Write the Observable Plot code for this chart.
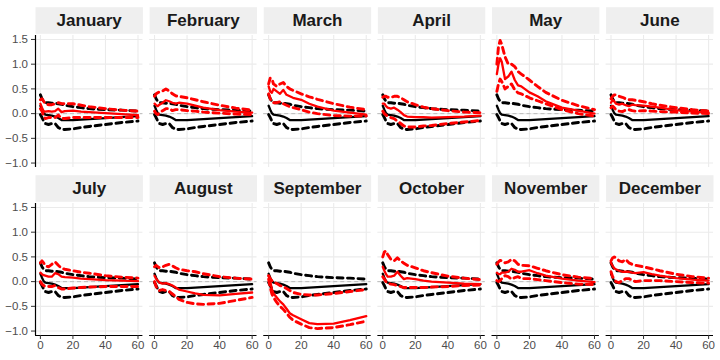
<!DOCTYPE html>
<html>
<head>
<meta charset="utf-8">
<script src="https://cdn.jsdelivr.net/npm/d3@7"></script>
<script src="https://cdn.jsdelivr.net/npm/@observablehq/plot@0.6"></script>
<style>
  html, body { margin: 0; padding: 0; background: #ffffff; }
  #chart { width: 720px; height: 360px; }
</style>
</head>
<body>
<div id="chart"></div>
<script>
// ---------------- data ----------------
const months = ["January","February","March","April","May","June",
                "July","August","September","October","November","December"];
const xSteps = [0,1,2,3,5,7,9,11,13,15,20,25,30,40,50,60];
const xTicks = [0,20,40,60];
const yTicks = [-1,-0.5,0,0.5,1,1.5];

// baseline response (black), identical in every panel
const blackMid   = [0.16,0.08,0.01,-0.02,-0.03,-0.04,-0.06,-0.09,-0.13,-0.13,-0.13,-0.12,-0.11,-0.09,-0.07,-0.05];
const blackUpper = [0.38,0.30,0.25,0.22,0.22,0.21,0.21,0.20,0.19,0.17,0.14,0.12,0.10,0.08,0.07,0.05];
const blackLower = [-0.02,-0.08,-0.15,-0.20,-0.22,-0.20,-0.20,-0.28,-0.32,-0.32,-0.31,-0.28,-0.26,-0.22,-0.18,-0.15];

// month-specific response (red), one row per month
const redMid = [
  [0.20,0.12,0.05,0.04,0.05,0.04,0.05,0.10,0.03,0.05,0.06,0.04,0.03,0.01,-0.01,-0.03],
  [0.20,0.17,0.15,0.18,0.22,0.27,0.25,0.22,0.20,0.22,0.20,0.16,0.12,0.07,0.04,0.02],
  [0.55,0.45,0.42,0.50,0.45,0.40,0.48,0.38,0.35,0.32,0.28,0.20,0.14,0.06,0.02,-0.02],
  [0.20,0.20,0.15,0.12,0.10,0.12,0.08,0.03,-0.03,-0.06,-0.07,-0.07,-0.08,-0.07,-0.06,-0.04],
  [0.80,1.00,1.12,1.05,0.70,0.75,0.85,0.68,0.57,0.55,0.43,0.35,0.25,0.12,0.06,0.00],
  [0.22,0.28,0.25,0.20,0.18,0.20,0.17,0.15,0.18,0.17,0.16,0.14,0.12,0.07,0.04,0.02],
  [0.18,0.15,0.13,0.12,0.10,0.10,0.17,0.15,0.10,0.09,0.08,0.06,0.05,0.03,0.02,0.01],
  [0.12,0.06,0.02,-0.02,-0.04,-0.03,-0.05,-0.08,-0.12,-0.16,-0.20,-0.24,-0.27,-0.28,-0.25,-0.22],
  [0.12,0.00,-0.15,-0.24,-0.32,-0.40,-0.46,-0.55,-0.64,-0.68,-0.76,-0.84,-0.86,-0.85,-0.78,-0.70],
  [0.30,0.22,0.15,0.10,0.10,0.12,0.20,0.12,0.05,0.07,0.05,0.02,0.00,-0.02,-0.04,-0.05],
  [0.18,0.15,0.15,0.18,0.18,0.20,0.26,0.24,0.20,0.20,0.23,0.17,0.12,0.06,0.02,-0.01],
  [0.38,0.32,0.27,0.25,0.22,0.20,0.20,0.20,0.18,0.17,0.19,0.15,0.12,0.07,0.04,0.02]
];
const redUpper = [
  [0.28,0.30,0.25,0.20,0.18,0.18,0.20,0.22,0.20,0.20,0.20,0.17,0.14,0.10,0.07,0.05],
  [0.35,0.40,0.42,0.44,0.46,0.50,0.46,0.40,0.36,0.35,0.32,0.28,0.24,0.17,0.11,0.07],
  [0.60,0.72,0.70,0.60,0.55,0.60,0.63,0.55,0.50,0.47,0.40,0.34,0.29,0.20,0.13,0.08],
  [0.33,0.35,0.35,0.33,0.33,0.35,0.35,0.32,0.28,0.24,0.18,0.13,0.10,0.06,0.03,0.02],
  [1.00,1.35,1.48,1.40,1.15,1.00,1.00,0.95,0.85,0.80,0.68,0.55,0.43,0.27,0.16,0.08],
  [0.30,0.35,0.38,0.38,0.35,0.33,0.30,0.28,0.28,0.27,0.24,0.20,0.17,0.12,0.08,0.05],
  [0.38,0.42,0.38,0.32,0.30,0.35,0.40,0.33,0.27,0.25,0.22,0.19,0.17,0.12,0.09,0.07],
  [0.30,0.33,0.30,0.28,0.30,0.33,0.35,0.32,0.28,0.25,0.22,0.20,0.16,0.10,0.07,0.05],
  [0.12,0.06,0.02,0.00,-0.04,-0.08,-0.10,-0.14,-0.18,-0.22,-0.26,-0.27,-0.27,-0.24,-0.20,-0.16],
  [0.50,0.60,0.62,0.55,0.45,0.42,0.48,0.42,0.37,0.33,0.28,0.22,0.18,0.11,0.07,0.04],
  [0.35,0.40,0.43,0.42,0.38,0.40,0.45,0.42,0.35,0.33,0.32,0.27,0.22,0.14,0.09,0.06],
  [0.42,0.48,0.50,0.48,0.42,0.40,0.45,0.38,0.35,0.33,0.30,0.26,0.22,0.15,0.10,0.07]
];
const redLower = [
  [0.10,0.05,-0.05,-0.10,-0.08,-0.08,-0.08,-0.03,-0.10,-0.10,-0.08,-0.08,-0.08,-0.08,-0.08,-0.08],
  [0.05,0.00,-0.02,0.02,0.06,0.10,0.10,0.06,0.08,0.08,0.06,0.05,0.03,0.01,-0.01,-0.02],
  [0.40,0.30,0.25,0.22,0.22,0.24,0.20,0.17,0.14,0.12,0.08,0.03,0.00,-0.04,-0.05,-0.05],
  [0.05,0.00,-0.03,-0.05,-0.08,-0.10,-0.15,-0.20,-0.25,-0.27,-0.27,-0.25,-0.24,-0.20,-0.17,-0.14],
  [0.45,0.60,0.70,0.65,0.50,0.55,0.60,0.48,0.42,0.40,0.32,0.26,0.20,0.08,0.00,-0.05],
  [0.12,0.15,0.12,0.08,0.05,0.04,0.07,0.08,0.06,0.05,0.06,0.05,0.04,0.03,0.01,0.00],
  [0.00,-0.05,-0.08,-0.10,-0.10,-0.10,-0.08,-0.12,-0.15,-0.15,-0.13,-0.12,-0.11,-0.10,-0.10,-0.10],
  [0.00,-0.10,-0.15,-0.18,-0.16,-0.18,-0.20,-0.25,-0.30,-0.36,-0.42,-0.45,-0.46,-0.44,-0.38,-0.32],
  [0.05,-0.12,-0.25,-0.32,-0.42,-0.50,-0.56,-0.64,-0.72,-0.78,-0.86,-0.93,-0.95,-0.93,-0.87,-0.80],
  [0.10,0.05,0.00,-0.03,-0.05,-0.06,-0.08,-0.10,-0.12,-0.12,-0.12,-0.12,-0.11,-0.10,-0.08,-0.07],
  [0.02,0.00,0.02,0.06,0.12,0.10,0.05,0.08,0.10,0.06,0.06,0.04,0.02,-0.02,-0.05,-0.06],
  [0.20,0.10,0.05,0.00,-0.02,0.02,0.06,0.06,0.03,0.00,0.02,0.02,0.02,0.00,-0.02,-0.03]
];

// ---------------- build tidy rows ----------------
const panels = months.map((m, i) => ({month: m, col: i % 6, row: Math.floor(i / 6)}));
const rows = [];
panels.forEach((p, i) => {
  const sets = [
    ["black", "mid", blackMid], ["black", "upper", blackUpper], ["black", "lower", blackLower],
    ["red", "mid", redMid[i]], ["red", "upper", redUpper[i]], ["red", "lower", redLower[i]]
  ];
  for (const [color, band, vals] of sets) {
    xSteps.forEach((x, j) => rows.push({
      month: p.month, col: p.col, row: p.row, x, y: vals[j],
      color, band, series: p.month + "-" + color + "-" + band
    }));
  }
});
const solid = (c) => rows.filter(d => d.color === c && d.band === "mid");
const dashed = (c) => rows.filter(d => d.color === c && d.band !== "mid");

// ---------------- layout ----------------
const W = 720, H = 360;
const mTop = 35, mBottom = 25, mLeft = 35, mRight = 7;
const fyPad = 0.2143, fxPad = 0.059;
const panelH = (H - mTop - mBottom) / (2 - fyPad) * (1 - fyPad);
const xDomain = [-3, 63];
const yDomain = [-1.09, 1.58];
const font = "'Liberation Sans', Arial, Helvetica, sans-serif";

const chart = Plot.plot({
  width: W, height: H,
  marginTop: mTop, marginBottom: mBottom, marginLeft: mLeft, marginRight: mRight,
  style: {background: "#ffffff", fontFamily: font},
  x: {domain: xDomain},
  y: {domain: yDomain},
  fx: {domain: [0,1,2,3,4,5], paddingInner: fxPad, paddingOuter: 0, round: false, axis: null},
  fy: {domain: [0,1], paddingInner: fyPad, paddingOuter: 0, round: false, axis: null},
  marks: [
    // strip backgrounds
    Plot.frame({fill: "#efefef", stroke: null, insetTop: -28.3, insetBottom: panelH + 1.7}),
    // gridlines
    Plot.gridX({ticks: xTicks, stroke: "#ebebeb", strokeOpacity: 1, strokeWidth: 1.1}),
    Plot.gridY({ticks: yTicks, stroke: "#ebebeb", strokeOpacity: 1, strokeWidth: 1.1}),
    // zero reference
    Plot.ruleY([0], {stroke: "#bdbdbd", strokeWidth: 1, strokeDasharray: "4,3"}),
    // black baseline
    Plot.line(dashed("black"), {x: "x", y: "y", z: "series", fx: "col", fy: "row",
      stroke: "#000000", strokeWidth: 2.9, strokeDasharray: "6,4.5"}),
    Plot.line(solid("black"), {x: "x", y: "y", z: "series", fx: "col", fy: "row",
      stroke: "#000000", strokeWidth: 2.3}),
    // red month responses
    Plot.line(dashed("red"), {x: "x", y: "y", z: "series", fx: "col", fy: "row",
      stroke: "#ff0000", strokeWidth: 2.9, strokeDasharray: "6,4.5"}),
    Plot.line(solid("red"), {x: "x", y: "y", z: "series", fx: "col", fy: "row",
      stroke: "#ff0000", strokeWidth: 2.3}),
    // axis lines
    Plot.ruleX(panels.filter(p => p.col === 0), {x: () => xDomain[0], fx: "col", fy: "row",
      stroke: "#000000", strokeWidth: 1.2}),
    Plot.ruleY(panels.filter(p => p.row === 1), {y: () => yDomain[0], fx: "col", fy: "row",
      stroke: "#000000", strokeWidth: 1.2}),
    // axes
    Plot.axisY({ticks: yTicks, tickFormat: d3.format(".1f"), anchor: "left", facetAnchor: "left",
      tickSize: 4, tickPadding: 3.5, label: null, stroke: "#333333", fill: "#4d4d4d",
      fontSize: 11.5, fontFamily: font}),
    Plot.axisX({ticks: xTicks, tickFormat: d => String(d), anchor: "bottom", facetAnchor: "bottom",
      tickSize: 4, tickPadding: 1, label: null, stroke: "#333333", fill: "#4d4d4d",
      fontSize: 11.5, fontFamily: font}),
    // strip labels
    Plot.text(panels, {fx: "col", fy: "row", text: "month", frameAnchor: "top", lineAnchor: "middle",
      dy: -15, fontSize: 17, fontWeight: "bold", fill: "#1a1a1a", fontFamily: font})
  ]
});
document.getElementById("chart").appendChild(chart);
</script>
</body>
</html>
